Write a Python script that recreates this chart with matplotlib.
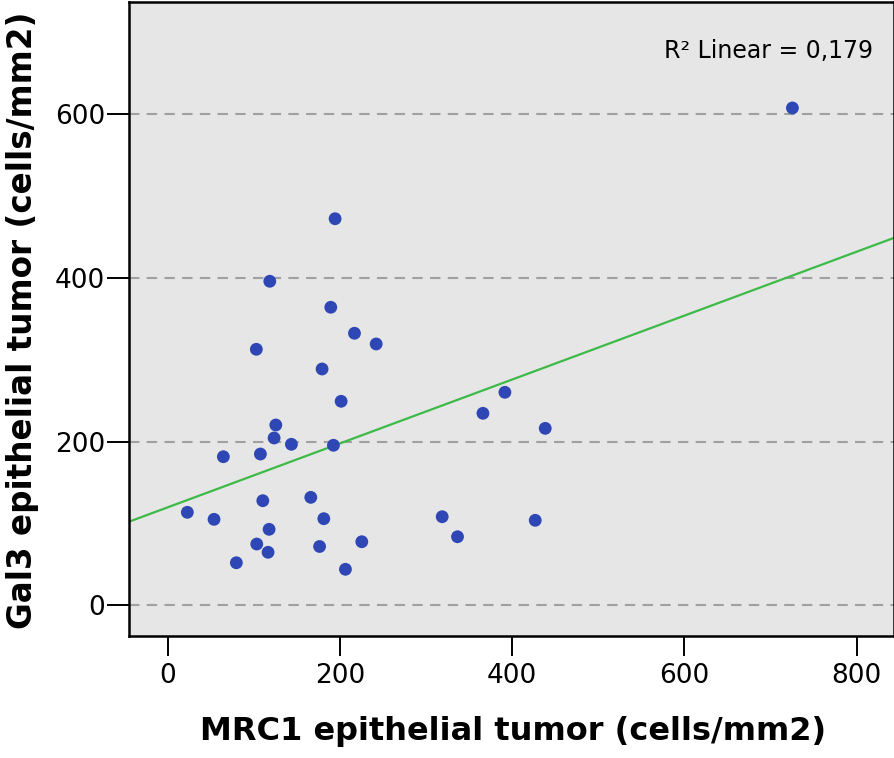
import matplotlib
matplotlib.use('Agg')
import matplotlib.pyplot as plt
import numpy as np

# MRC1 vs Gal3 epithelial tumor densities (cells/mm2)
mrc1 = [725.3, 194.5, 118.7, 189.5, 217.0, 242.2, 103.1, 179.4, 201.5, 125.7,
        123.7, 143.8, 192.6, 64.8, 107.8, 110.6, 166.3, 23.0, 54.0, 181.4,
        117.9, 103.6, 116.7, 176.5, 225.5, 79.9, 206.5, 366.1, 391.6, 438.4,
        318.8, 336.6, 426.8]
gal3 = [608.0, 472.5, 396.0, 364.2, 332.4, 319.3, 312.8, 288.7, 249.2, 220.2,
        204.3, 196.6, 195.4, 181.4, 184.7, 127.6, 131.7, 113.4, 104.8, 105.6,
        92.6, 74.6, 64.5, 71.6, 77.4, 51.7, 43.7, 234.5, 260.2, 216.1,
        108.0, 83.5, 103.6]

# fit line as drawn in the reference
fit_intercept = 119.4
fit_slope = 0.391
r2_text = 'R\u00b2 Linear = 0,179'

x_ticks = [0, 200, 400, 600, 800]
y_ticks = [0, 200, 400, 600]
x_lim = (-44.7, 843.2)
y_lim = (-37.9, 737.6)

plt.rcParams['font.family'] = ['DejaVu Sans']

fig = plt.figure(figsize=(8.95, 7.58), dpi=100)
ax = fig.add_axes([129 / 895, 1 - 636 / 758, (894 - 129) / 895, (636 - 2) / 758])
ax.set_facecolor('#e6e6e6')

# dashed horizontal grid
for yv in y_ticks:
    ax.axhline(yv, color='#a0a0a0', linestyle=(0, (5, 3.5)), linewidth=1.5, zorder=1)

# regression line
xs = np.array(x_lim)
ax.plot(xs, fit_intercept + fit_slope * xs, color='#3dba48', linewidth=1.6, zorder=2)

# points
ax.scatter(mrc1, gal3, s=85, color='#2e47b5', edgecolors='none', zorder=3)

ax.set_xlim(*x_lim)
ax.set_ylim(*y_lim)
ax.set_xticks(x_ticks)
ax.set_yticks(y_ticks)

for side in ax.spines.values():
    side.set_linewidth(1.8)
    side.set_color('black')

ax.tick_params(axis='x', direction='out', length=14.5, width=1.4, pad=5, labelsize=19)
ax.tick_params(axis='y', direction='out', length=16, width=1.4, pad=1, labelsize=19)

ax.set_xlabel('MRC1 epithelial tumor (cells/mm2)', fontsize=23, fontweight='bold')
ax.set_ylabel('Gal3 epithelial tumor (cells/mm2)', fontsize=23.5, fontweight='bold')
ax.xaxis.set_label_coords(0.502, -0.126)
ax.yaxis.set_label_coords(-0.117, 0.498)

ax.text(0.9725, 0.923, r2_text, transform=ax.transAxes, ha='right', va='center', fontsize=17)

fig.savefig('out.png', dpi=100)
